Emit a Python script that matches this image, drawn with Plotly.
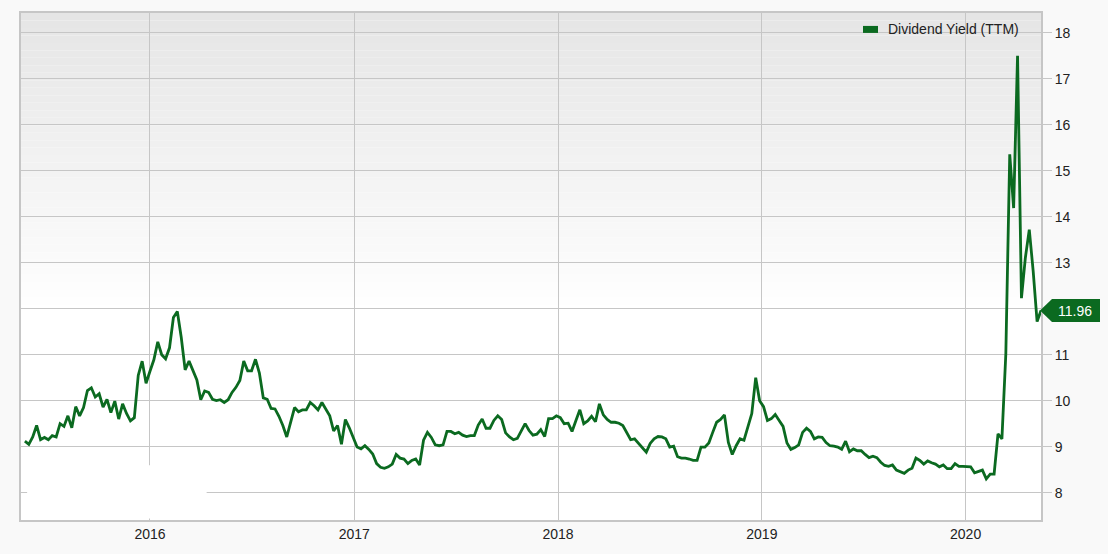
import pandas as pd
import plotly.graph_objects as go

# ---- data (weekly Dividend Yield TTM, %) ----
start_date = "2015-05-22"
part_2015 = [9.12, 9.05, 9.21, 9.46, 9.15, 9.2, 9.15, 9.24, 9.21, 9.5, 9.44, 9.67, 9.41, 9.87,
             9.67, 9.85, 10.22, 10.28, 10.08, 10.15, 9.86, 10.03, 9.74, 9.99, 9.6, 9.93, 9.72,
             9.56, 9.63, 10.55, 10.86, 10.38, 10.64, 10.89, 11.28, 11.0, 10.91, 11.15, 11.81,
             11.94, 11.38, 10.67, 10.86, 10.64, 10.45]
part_2016 = [10.02, 10.21, 10.18, 10.03, 10.0, 10.02, 9.96, 10.02, 10.18, 10.29, 10.44, 10.86,
             10.65, 10.65, 10.9, 10.6, 10.06, 10.03, 9.83, 9.82, 9.66, 9.46, 9.21, 9.53, 9.85,
             9.76, 9.8, 9.8, 9.96, 9.89, 9.8, 9.96, 9.82, 9.67, 9.34, 9.46, 9.05, 9.59, 9.41,
             9.21, 8.99, 8.95, 9.02, 8.94, 8.84]
part_2017 = [8.63, 8.55, 8.53, 8.56, 8.62, 8.83, 8.75, 8.73, 8.63, 8.7, 8.73, 8.6, 9.14, 9.31,
             9.2, 9.04, 9.02, 9.04, 9.33, 9.33, 9.28, 9.31, 9.25, 9.22, 9.24, 9.24, 9.47, 9.6,
             9.4, 9.4, 9.57, 9.67, 9.59, 9.3, 9.21, 9.15, 9.18, 9.34, 9.5, 9.35, 9.25, 9.27,
             9.37, 9.22, 9.61, 9.61, 9.67]
part_2018 = [9.63, 9.5, 9.51, 9.33, 9.57, 9.8, 9.5, 9.56, 9.66, 9.54, 9.93, 9.69, 9.59, 9.53,
             9.53, 9.51, 9.46, 9.3, 9.15, 9.17, 9.08, 8.98, 8.88, 9.07, 9.17, 9.22, 9.21, 9.17,
             8.99, 9.01, 8.78, 8.75, 8.75, 8.73, 8.7, 8.7, 8.99, 8.99, 9.08, 9.31, 9.53, 9.59,
             9.69, 9.09, 8.83, 9.02, 9.17]
part_2019 = [9.14, 9.43, 9.72, 10.5, 10.0, 9.87, 9.57, 9.61, 9.7, 9.57, 9.44, 9.08, 8.94, 8.98,
             9.04, 9.31, 9.4, 9.33, 9.17, 9.21, 9.2, 9.09, 9.02, 9.01, 8.99, 8.94, 9.12, 8.89,
             8.95, 8.91, 8.91, 8.83, 8.76, 8.79, 8.76, 8.66, 8.59, 8.57, 8.6, 8.49, 8.46, 8.42,
             8.49, 8.53, 8.75, 8.7]
part_2020 = [8.62, 8.69, 8.65, 8.62, 8.56, 8.6, 8.52, 8.52, 8.63, 8.57, 8.57, 8.57, 8.56, 8.43,
             8.46, 8.49, 8.3, 8.4, 8.4, 9.28, 9.17, 11.02, 15.36, 14.19, 17.5, 12.23, 13.11,
             13.72, 12.82, 11.72, 11.96]
series_name = "Dividend Yield (TTM)"
y_ticks = [8, 9, 10, 11, 12, 13, 14, 15, 16, 17, 18]

values = part_2015 + part_2016 + part_2017 + part_2018 + part_2019 + part_2020
dates = pd.date_range(start_date, periods=len(values), freq="7D")
last_val = values[-1]
# the value flag covers the tick label nearest to the last value
y_ticktext = ["" if abs(t - last_val) < 0.5 else str(t) for t in y_ticks]

GREEN = "#0b6a20"
GRID = "#c6c6c6"
PAGE_BG = "#f9f9f9"
FONT = "Arial, Liberation Sans, sans-serif"

fig = go.Figure()
fig.add_trace(go.Scatter(x=dates, y=values, mode="lines", name=series_name,
                         line=dict(color=GREEN, width=2.8), showlegend=False,
                         hoverinfo="x+y"))

shapes = []
# vertical gradient background (grey at top fading to white)
n = 40
top_c, bot_c = 229, 255
fade_to = 0.41
for i in range(n):
    y1 = 1 - i * (1 - fade_to) / n
    y0 = 1 - (i + 1) * (1 - fade_to) / n
    c = int(round(top_c + (bot_c - top_c) * (i + 0.5) / n))
    shapes.append(dict(type="rect", xref="paper", yref="paper", x0=0, x1=1, y0=y0, y1=y1,
                       fillcolor=f"rgb({c},{c},{c})", line=dict(width=0), layer="below"))

# white patch bottom-left
shapes.append(dict(type="rect", xref="paper", yref="paper", x0=0.006, x1=0.182, y0=0.003, y1=0.108,
                   fillcolor="white", line=dict(width=0), layer="above"))

# legend swatch
shapes.append(dict(type="rect", xref="paper", yref="paper", x0=0.8255, x1=0.8402, y0=0.9607, y1=0.9745,
                   fillcolor=GREEN, line=dict(width=0), layer="above"))

# last value flag
shapes.append(dict(type="path", xref="paper", yref="y", xsizemode="pixel", ysizemode="pixel",
                   xanchor=1, yanchor=last_val,
                   path="M -1,0 L 11,11.5 L 59,11.5 L 59,-11.5 L 11,-11.5 Z",
                   fillcolor=GREEN, line=dict(width=0), layer="above"))

annotations = [
    dict(text=series_name, xref="paper", yref="paper", x=0.848, y=0.9686, xanchor="left",
         yanchor="middle", showarrow=False, font=dict(family=FONT, size=14, color="#222")),
    dict(text=f"{last_val:.2f}", xref="paper", yref="y", x=1, y=last_val, xanchor="center",
         xshift=34, yanchor="middle", showarrow=False, font=dict(family=FONT, size=14, color="white")),
]

fig.update_layout(
    width=1108, height=554,
    margin=dict(l=21, r=67, t=11, b=34),
    paper_bgcolor=PAGE_BG, plot_bgcolor="white",
    font=dict(family=FONT, size=14, color="#222"),
    shapes=shapes, annotations=annotations,
    showlegend=False,
    xaxis=dict(type="date", range=["2015-05-15", "2020-05-15"], dtick="M12", tick0="2016-01-01",
               tickformat="%Y", showgrid=True, gridcolor=GRID, gridwidth=1.3, ticks="",
               showline=True, mirror=True, linecolor=GRID, linewidth=2, zeroline=False,
               tickfont=dict(size=14, color="#222")),
    yaxis=dict(side="right", range=[7.404, 18.433], tickvals=y_ticks, ticktext=y_ticktext,
               showgrid=True, gridcolor=GRID, gridwidth=1.3, ticks="outside", ticklen=9,
               tickcolor=GRID, tickwidth=1.3,
               showline=True, mirror=True, linecolor=GRID, linewidth=2, zeroline=False,
               tickfont=dict(size=14, color="#222")),
)

fig.write_html(
    "out.html",
    config={"displayModeBar": False},
    post_script=f"document.body.style.margin='0';document.body.style.background='{PAGE_BG}';",
)
